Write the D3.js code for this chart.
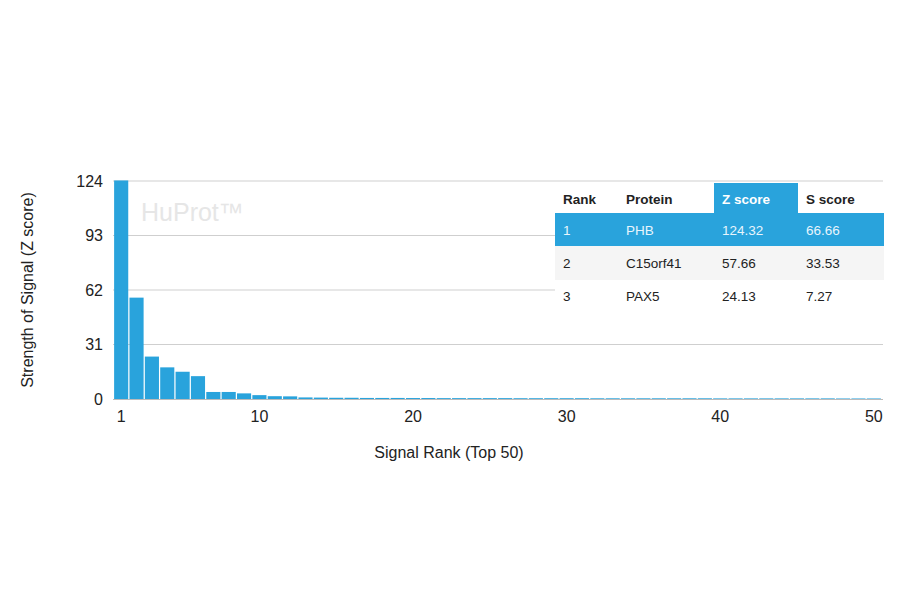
<!DOCTYPE html>
<html><head><meta charset="utf-8">
<script src="https://cdn.jsdelivr.net/npm/d3@7"></script>
<style>body{margin:0;background:#fff;font-family:"Liberation Sans",Arial,sans-serif;}</style>
</head><body><svg id="c" width="900" height="594"></svg>
<script>
const ranks = d3.range(1, 51);
const zScores = [124.32, 57.66, 24.13, 18, 15.5, 13, 4, 4, 3.2, 2.2, 1.6, 1.5, 0.9, 0.8, 0.7, 0.7, 0.6, 0.6, 0.6, 0.55,
  0.55, 0.5, 0.5, 0.5, 0.5, 0.5, 0.45, 0.45, 0.45, 0.45, 0.45, 0.4, 0.4, 0.4, 0.4, 0.4, 0.4, 0.4, 0.4, 0.35,
  0.35, 0.35, 0.35, 0.35, 0.35, 0.35, 0.35, 0.3, 0.3, 0.3];
const yTicks = [0, 31, 62, 93, 124];
const xTicks = [1, 10, 20, 30, 40, 50];
const tableHead = ["Rank", "Protein", "Z score", "S score"];
const tableRows = [["1", "PHB", "124.32", "66.66"], ["2", "C15orf41", "57.66", "33.53"], ["3", "PAX5", "24.13", "7.27"]];

const svg = d3.select('#c');
const blue = '#29a3dc';
const x = d3.scaleBand().domain(ranks).range([113.5, 881.5]).paddingInner(0.08).paddingOuter(0.04);
const y = d3.scaleLinear().domain([0, 124]).range([399, 181]);

// grid
svg.append('g').selectAll('line').data(yTicks.filter(d => d > 0)).join('line')
  .attr('x1', 113).attr('x2', 883).attr('y1', d => y(d)).attr('y2', d => y(d))
  .attr('stroke', '#cfcfcf').attr('stroke-width', 1);

svg.append('text').attr('x', 141).attr('y', 221).text('HuProt™')
  .attr('fill', '#e6e6e6').attr('font-size', 25);

svg.append('g').selectAll('rect').data(ranks).join('rect')
  .attr('x', d => x(d)).attr('width', x.bandwidth())
  .attr('y', (d, i) => y(zScores[i])).attr('height', (d, i) => y(0) - y(zScores[i]))
  .attr('fill', blue);

svg.append('line').attr('x1', 113).attr('x2', 883).attr('y1', 399.5).attr('y2', 399.5).attr('stroke', '#bbb');

const yAxis = svg.append('g').attr('transform', 'translate(103,0)')
  .call(d3.axisLeft(y).tickValues(yTicks).tickSize(0).tickPadding(0));
yAxis.select('.domain').remove();
yAxis.selectAll('text').attr('font-size', 16).attr('fill', '#222').attr('font-family', 'Liberation Sans, Arial');

const xAxis = svg.append('g').attr('transform', 'translate(0,408)')
  .call(d3.axisBottom(x).tickValues(xTicks).tickSize(0).tickPadding(3));
xAxis.select('.domain').remove();
xAxis.selectAll('text').attr('font-size', 16).attr('fill', '#222').attr('font-family', 'Liberation Sans, Arial');

svg.append('text').attr('x', 449).attr('y', 458).attr('text-anchor', 'middle')
  .attr('font-size', 16).attr('fill', '#222').text('Signal Rank (Top 50)');
svg.append('text').attr('transform', 'translate(33,290) rotate(-90)').attr('text-anchor', 'middle')
  .attr('font-size', 16).attr('fill', '#222').text('Strength of Signal (Z score)');

// table
const colX = [555, 618, 714, 798, 884];
const rowY = [183, 213, 246, 280, 312];
const t = svg.append('g');
t.append('rect').attr('x', 555).attr('y', 183).attr('width', 329).attr('height', 129).attr('fill', '#fff');
t.append('rect').attr('x', colX[2]).attr('y', rowY[0]).attr('width', colX[3] - colX[2]).attr('height', rowY[1] - rowY[0]).attr('fill', blue);
t.append('rect').attr('x', 555).attr('y', rowY[1]).attr('width', 329).attr('height', rowY[2] - rowY[1]).attr('fill', blue);
t.append('rect').attr('x', 555).attr('y', rowY[2]).attr('width', 329).attr('height', rowY[3] - rowY[2]).attr('fill', '#f5f5f5');
t.selectAll('text.h').data(tableHead).join('text').attr('class', 'h')
  .attr('x', (d, i) => colX[i] + 8).attr('y', 204).attr('font-size', 13.5).attr('font-weight', 'bold')
  .attr('fill', (d, i) => i === 2 ? '#fff' : '#222').text(d => d);
tableRows.forEach((r, ri) => {
  t.selectAll('text.r' + ri).data(r).join('text').attr('class', 'r' + ri)
    .attr('x', (d, i) => colX[i] + 8).attr('y', (rowY[ri + 1] + rowY[ri + 2]) / 2 + 5)
    .attr('font-size', 13.5).attr('fill', ri === 0 ? '#e8f5fc' : '#222').text(d => d);
});
</script></body></html>
